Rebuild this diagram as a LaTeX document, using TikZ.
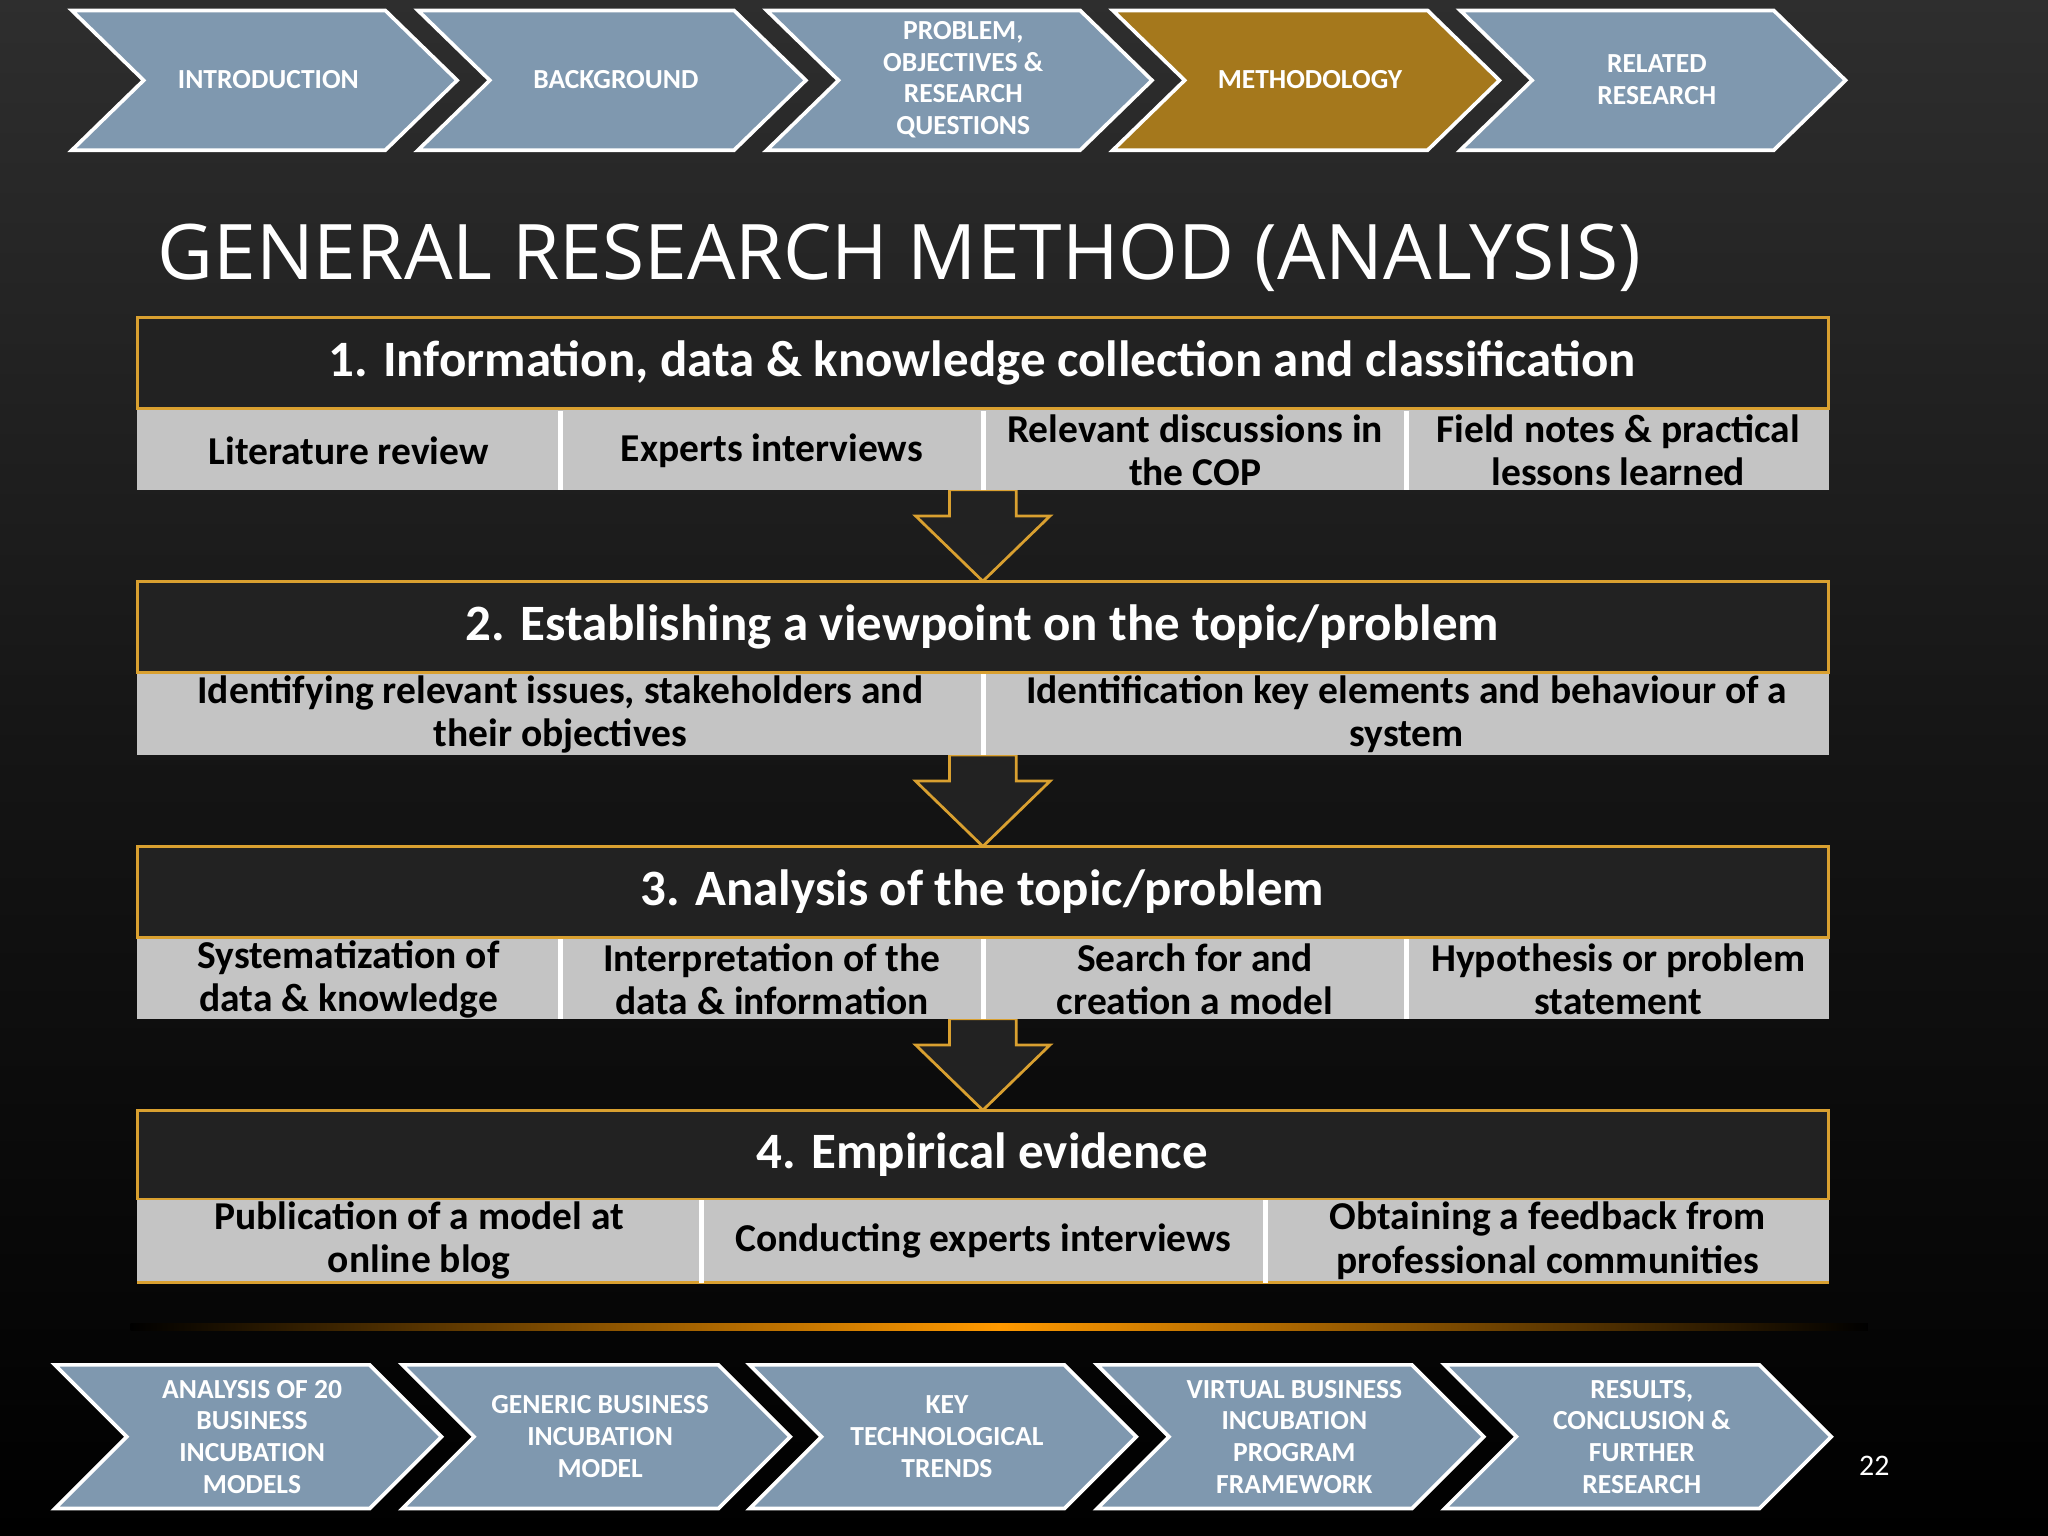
\documentclass[tikz,border=0pt]{standalone}
\usepackage{fontspec}
\setmainfont{Carlito}
\newfontfamily\titlefont{Open Sans}
\definecolor{chev}{HTML}{7F98AF}
\definecolor{gold}{HTML}{A5781C}
\definecolor{hdr}{HTML}{222222}
\definecolor{cell}{HTML}{C4C4C4}
\definecolor{goldline}{HTML}{D9A030}
\tikzset{
 chevtxt/.style={text=white,font=\bfseries\fontsize{6}{6.9}\selectfont,align=center},
 hdrbox/.style={fill=hdr,draw=goldline,line width=0.6pt},
 celltxt/.style={font=\bfseries\fontsize{8.6}{9.4}\selectfont,align=center,text=black},
 hdrtxt/.style={font=\bfseries\fontsize{11.1}{12}\selectfont,text=white},
 downarrow/.style={fill=hdr,draw=goldline,line width=0.6pt,line join=miter}
}
\newcommand\mychev[6]{% x0 x1 ytop ybot color
 \fill[#5,draw=white,line width=0.8pt] (#1,#3)--(#2-55,#3)--(#2,{(#3+#4)/2})--(#2-55,#4)--(#1,#4)--(#1+55,{(#3+#4)/2})--cycle;
}
\begin{document}
\begin{tikzpicture}[x=0.01cm,y=-0.01cm]
\shade[top color=black!82!white,bottom color=black,middle color=black!92!white] (0,0) rectangle (1568,1176);
\useasboundingbox (0,0) rectangle (1568,1176);
% top chevrons
\foreach \a/\b/\c/\t/\n in {55/350/chev/INTRODUCTION/t1,320/617/chev/BACKGROUND/t2,587/882/chev/{PROBLEM,\\OBJECTIVES \&\\RESEARCH\\QUESTIONS}/t3,852/1148/gold/METHODOLOGY/t4,1118/1413/chev/{RELATED\\RESEARCH}/t5}{
 \mychev{\a}{\b}{8}{115}{\c}{}
 \node[chevtxt] (\n) at ({(\a+\b)/2+3},61) {\t};
}
\foreach \a/\b/\t/\n in {42/338/{ANALYSIS OF 20\\BUSINESS\\INCUBATION\\MODELS}/b1,308/605/{GENERIC BUSINESS\\INCUBATION\\MODEL}/b2,574/870/{KEY\\TECHNOLOGICAL\\TRENDS}/b3,840/1136/{VIRTUAL BUSINESS\\INCUBATION\\PROGRAM\\FRAMEWORK}/b4,1106/1402/{RESULTS,\\CONCLUSION \&\\FURTHER\\RESEARCH}/b5}{
 \mychev{\a}{\b}{1045}{1155}{chev}{}
 \node[chevtxt] (\n) at ({(\a+\b)/2+3},1100) {\t};
}
\node[anchor=west,text=white,font=\titlefont\fontsize{16.7}{18}\selectfont,inner sep=0pt] (title) at (120,197) {GENERAL RESEARCH METHOD (ANALYSIS)};
% arrows
\foreach \y/\n in {375/a1,578/a2,780/a3}{
 \draw[downarrow] (727,\y)--(778,\y)--(778,\y+20)--(804,\y+20)--(752.5,\y+70)--(701,\y+20)--(727,\y+20)--cycle;
 \coordinate (\n) at (752,\y);
}
\newcommand\sect[4]{% ytop yhdrbot ycellbot headertext
 \fill[cell] (105,#2) rectangle (1400,#3);
 \draw[hdrbox] (105,#1) rectangle (1400,#2);
 \node[hdrtxt] at (752,{(#1+#2)/2}) {#4};
}
\sect{243}{313}{375}{1. Information, data \& knowledge collection and classification}
\sect{445}{515}{578}{2. Establishing a viewpoint on the topic/problem}
\sect{648}{718}{780}{3. Analysis of the topic/problem}
\sect{850}{918}{982}{4. Empirical evidence}
\draw[goldline,line width=0.8pt] (105,982)--(1400,982);
% cell dividers
\foreach \x in {429,753,1077}{\draw[white,line width=1.2pt] (\x,315)--(\x,375) (\x,719)--(\x,780);}
\draw[white,line width=1.2pt] (753,516)--(753,578);
\foreach \x in {537,969}{\draw[white,line width=1.2pt] (\x,919)--(\x,982);}
% cell texts
\node[celltxt] (c11) at (267,345) {Literature review};
\node[celltxt] (c12) at (591,345) {Experts interviews};
\node[celltxt] (c13) at (915,345) {Relevant discussions in\\the COP};
\node[celltxt] (c14) at (1239,345) {Field notes \& practical\\lessons learned};
\node[celltxt] (c21) at (429,547) {Identifying relevant issues, stakeholders and\\their objectives};
\node[celltxt] (c22) at (1077,547) {Identification key elements and behaviour of a\\system};
\node[celltxt] (c31) at (267,750) {Systematization of\\data \& knowledge};
\node[celltxt] (c32) at (591,750) {Interpretation of the\\data \& information};
\node[celltxt] (c33) at (915,750) {Search for and\\creation a model};
\node[celltxt] (c34) at (1239,750) {Hypothesis or problem\\statement};
\node[celltxt] (c41) at (321,950) {Publication of a model at\\online blog};
\node[celltxt] (c42) at (753,950) {Conducting experts interviews};
\node[celltxt] (c43) at (1185,950) {Obtaining a feedback from\\professional communities};
% glow
\shade[left color=black,right color=black,middle color=orange!80!yellow] (100,1013) rectangle (1430,1019);
\node[text=white,font=\fontsize{6.5}{7}\selectfont] (pg) at (1435,1122) {22};
\end{tikzpicture}
\end{document}
